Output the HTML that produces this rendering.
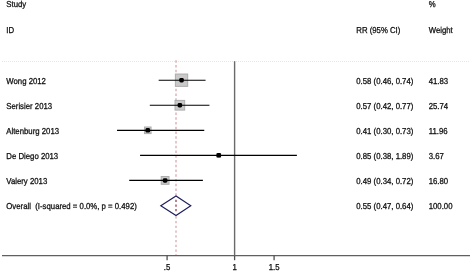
<!DOCTYPE html>
<html><head><meta charset="utf-8"><style>
html,body{margin:0;padding:0;background:#fff;overflow:hidden;}
#w{will-change:transform;width:472px;height:272px;} svg{display:block;}
text{font-family:"Liberation Sans",sans-serif;font-size:8.6px;fill:#111;stroke:#111;stroke-width:0.28px;text-rendering:geometricPrecision;}
</style></head><body>
<div id="w"><svg width="472" height="272" viewBox="0 0 472 272">
<rect width="472" height="272" fill="#fff"/>
<line x1="2" y1="61.5" x2="469.5" y2="61.5" stroke="#e6e6e6" stroke-width="1" stroke-dasharray="1 1"/>
<line x1="2" y1="255.6" x2="470" y2="255.6" stroke="#606060" stroke-width="1.4"/>
<line x1="167.09" y1="255.6" x2="167.09" y2="260.2" stroke="#505050" stroke-width="1.3"/>
<line x1="234.60" y1="255.6" x2="234.60" y2="260.2" stroke="#505050" stroke-width="1.3"/>
<line x1="274.09" y1="255.6" x2="274.09" y2="260.2" stroke="#505050" stroke-width="1.3"/>
<line x1="234.60" y1="61.2" x2="234.60" y2="255.6" stroke="#6a6a6a" stroke-width="1.4"/>
<line x1="176.00" y1="60.3" x2="176.00" y2="196" stroke="#d4989e" stroke-width="1.1" stroke-dasharray="2.4 2.35"/>
<line x1="176.00" y1="216.2" x2="176.00" y2="255" stroke="#d4989e" stroke-width="1.1" stroke-dasharray="2.4 2.35"/>
<rect x="175.39" y="74.05" width="12.30" height="12.30" fill="#c9c9c9" stroke="#acacac" stroke-width="1"/>
<rect x="175.02" y="100.42" width="9.66" height="9.66" fill="#c9c9c9" stroke="#acacac" stroke-width="1"/>
<rect x="144.46" y="127.00" width="6.60" height="6.60" fill="#c9c9c9" stroke="#acacac" stroke-width="1"/>
<rect x="216.93" y="153.51" width="3.68" height="3.68" fill="#c9c9c9" stroke="#acacac" stroke-width="1"/>
<rect x="161.21" y="176.49" width="7.81" height="7.81" fill="#c9c9c9" stroke="#acacac" stroke-width="1"/>
<line x1="158.67" y1="80.20" x2="205.57" y2="80.20" stroke="#000" stroke-width="1.15"/>
<rect x="179.29" y="77.95" width="4.5" height="4.5" rx="1.4" fill="#000"/>
<line x1="149.81" y1="105.25" x2="209.44" y2="105.25" stroke="#000" stroke-width="1.15"/>
<rect x="177.60" y="103.00" width="4.5" height="4.5" rx="1.4" fill="#000"/>
<line x1="117.03" y1="130.30" x2="204.25" y2="130.30" stroke="#000" stroke-width="1.15"/>
<rect x="145.51" y="128.05" width="4.5" height="4.5" rx="1.4" fill="#000"/>
<line x1="140.06" y1="155.35" x2="296.90" y2="155.35" stroke="#000" stroke-width="1.15"/>
<rect x="216.52" y="153.10" width="4.5" height="4.5" rx="1.4" fill="#000"/>
<line x1="129.22" y1="180.40" x2="202.90" y2="180.40" stroke="#000" stroke-width="1.15"/>
<rect x="162.87" y="178.15" width="4.5" height="4.5" rx="1.4" fill="#000"/>
<line x1="176.00" y1="199.7" x2="176.00" y2="211.3" stroke="#a04a5c" stroke-width="1.4" stroke-dasharray="2.3 2.4"/>
<polygon points="160.8,205.70 176.00,195.90 190.8,205.70 176.00,215.50" fill="none" stroke="#1e1e5e" stroke-width="1.15"/>
<g transform="scale(0.905,1)">
<text x="6.96" y="7.25" text-anchor="start">Study</text>
<text x="6.96" y="32.60" text-anchor="start">ID</text>
<text x="393.70" y="32.60" text-anchor="start">RR (95% CI)</text>
<text x="473.70" y="7.20" text-anchor="start">%</text>
<text x="473.70" y="32.60" text-anchor="start">Weight</text>
<text x="6.96" y="83.65" text-anchor="start">Wong 2012</text>
<text x="393.70" y="83.65" text-anchor="start">0.58 (0.46, 0.74)</text>
<text x="473.70" y="83.65" text-anchor="start">41.83</text>
<text x="6.96" y="108.65" text-anchor="start">Serisier 2013</text>
<text x="393.70" y="108.65" text-anchor="start">0.57 (0.42, 0.77)</text>
<text x="473.70" y="108.65" text-anchor="start">25.74</text>
<text x="6.96" y="133.65" text-anchor="start">Altenburg 2013</text>
<text x="393.70" y="133.65" text-anchor="start">0.41 (0.30, 0.73)</text>
<text x="473.70" y="133.65" text-anchor="start">11.96</text>
<text x="6.96" y="158.65" text-anchor="start">De Diego 2013</text>
<text x="393.70" y="158.65" text-anchor="start">0.85 (0.38, 1.89)</text>
<text x="473.70" y="158.65" text-anchor="start">3.67</text>
<text x="6.96" y="183.65" text-anchor="start">Valery 2013</text>
<text x="393.70" y="183.65" text-anchor="start">0.49 (0.34, 0.72)</text>
<text x="473.70" y="183.65" text-anchor="start">16.80</text>
<text x="6.96" y="208.65" text-anchor="start">Overall&#160; (I-squared = 0.0%, p = 0.492)</text>
<text x="393.70" y="208.65" text-anchor="start">0.55 (0.47, 0.64)</text>
<text x="473.70" y="208.65" text-anchor="start">100.00</text>
<text x="184.63" y="269.80" text-anchor="middle">.5</text>
<text x="259.23" y="269.80" text-anchor="middle">1</text>
<text x="302.86" y="269.80" text-anchor="middle">1.5</text>
</g>
</svg></div>
</body></html>
